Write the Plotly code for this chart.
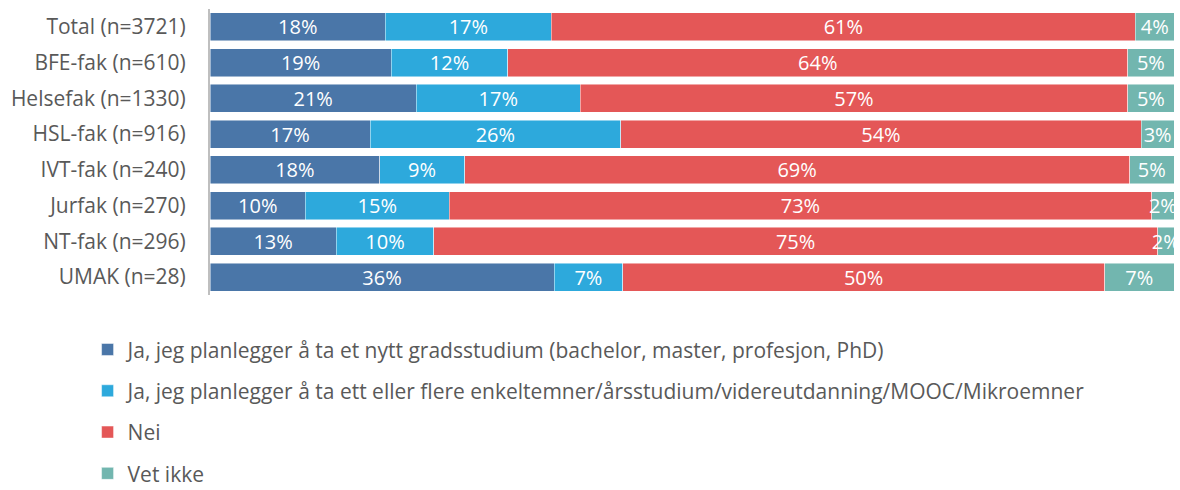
import plotly.graph_objects as go

# Faculties, top to bottom
categories = [
    "Total (n=3721)", "BFE-fak (n=610)", "Helsefak (n=1330)", "HSL-fak (n=916)",
    "IVT-fak (n=240)", "Jurfak (n=270)", "NT-fak (n=296)", "UMAK (n=28)",
]

# Share of respondents (%) per answer
ja_grad = [18.2, 18.8, 21.4, 16.6, 17.6, 9.9, 13.1, 35.7]
ja_enkelt = [17.2, 12.1, 17.0, 26.0, 8.8, 14.9, 10.1, 7.1]
nei = [60.6, 64.3, 56.8, 54.0, 69.0, 72.9, 75.1, 50.0]
vet_ikke = [4.0, 4.8, 4.8, 3.4, 4.6, 2.3, 1.7, 7.2]

series_names = [
    "Ja, jeg planlegger å ta et nytt gradsstudium (bachelor, master, profesjon, PhD)",
    "Ja, jeg planlegger å ta ett eller flere enkeltemner/årsstudium/videreutdanning/MOOC/Mikroemner",
    "Nei",
    "Vet ikke",
]
series_values = [ja_grad, ja_enkelt, nei, vet_ikke]
colors = ["#4A76A8", "#2DA9DC", "#E45757", "#72B6AF"]

FONT = "Open Sans"
TEXT_GREY = "#595959"
SIZE = 21

fig = go.Figure()
for i, (name, vals, col) in enumerate(zip(series_names, series_values, colors)):
    fig.add_trace(go.Bar(
        y=categories,
        x=vals,
        name=name,
        orientation="h",
        legendgroup=f"g{i}",
        marker=dict(color=col, line=dict(color="rgba(255,255,255,0.6)", width=0.8)),
        texttemplate="%{x:.0f}%",
        textposition="inside",
        insidetextanchor="middle",
        textangle=0,
        constraintext="none",
        textfont=dict(family=FONT, size=20, color="white"),
        cliponaxis=True,
        hovertemplate="%{y}: %{x:.1f}%<extra></extra>",
    ))

fig.update_layout(
    barmode="stack",
    bargap=0.22,
    width=1180,
    height=490,
    margin=dict(l=210, r=6, t=9, b=195, autoexpand=False),
    plot_bgcolor="white",
    paper_bgcolor="white",
    font=dict(family=FONT, size=SIZE, color=TEXT_GREY),
    xaxis=dict(range=[0, 100], visible=False, showgrid=False, zeroline=False),
    yaxis=dict(
        autorange="reversed",
        showgrid=False,
        showline=True,
        linecolor="#BFBFBF",
        linewidth=2,
        ticks="",
        ticklabelstandoff=18,
        tickfont=dict(family=FONT, size=SIZE, color=TEXT_GREY),
    ),
    legend=dict(
        orientation="v",
        x=-0.127,
        xanchor="left",
        y=-0.12,
        yanchor="top",
        traceorder="grouped",
        tracegroupgap=11,
        font=dict(family=FONT, size=SIZE, color=TEXT_GREY),
        bgcolor="rgba(0,0,0,0)",
    ),
)

fig.write_html("out.html")
